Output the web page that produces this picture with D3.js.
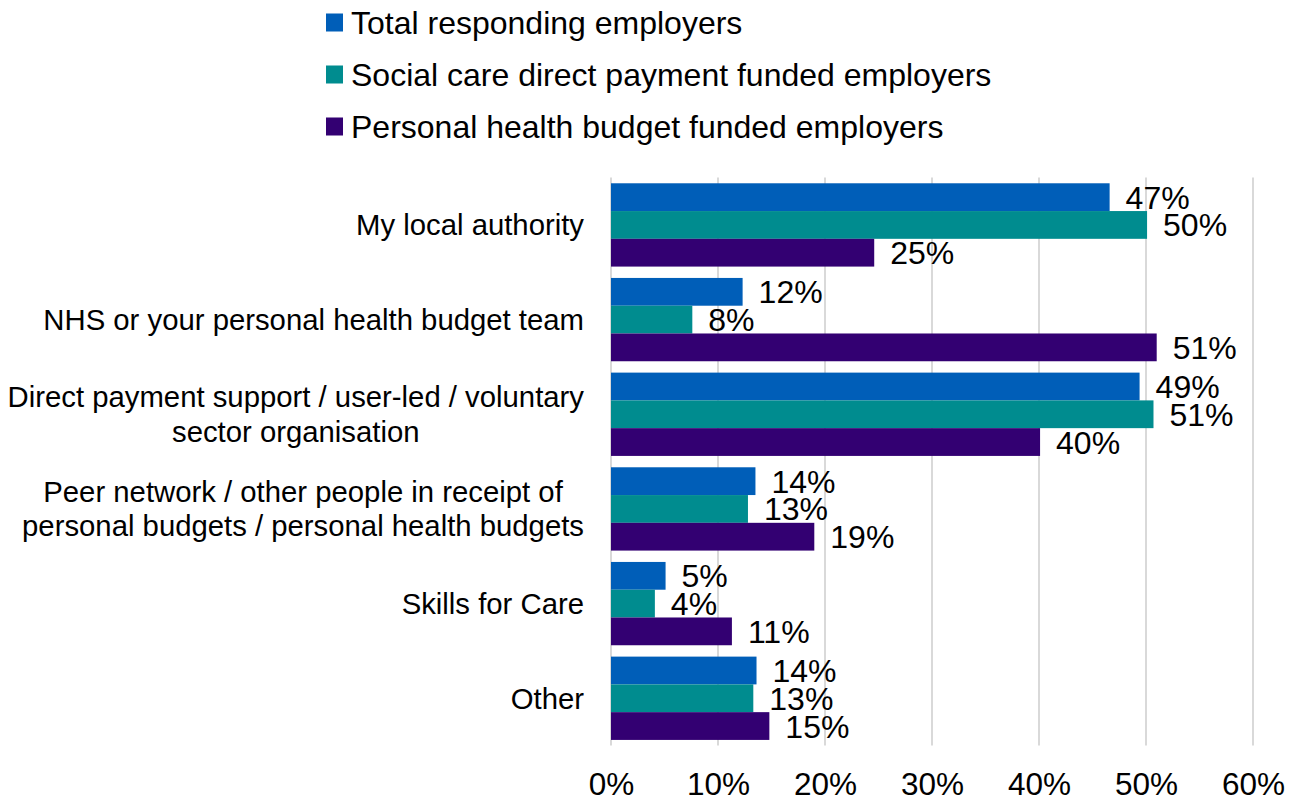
<!DOCTYPE html>
<html>
<head>
<meta charset="utf-8">
<script src="https://cdn.jsdelivr.net/npm/d3@7"></script>
<style>
  html, body { margin: 0; padding: 0; background: #ffffff; }
  svg { display: block; }
  text { font-family: "Liberation Sans", Arial, sans-serif; fill: #000; }
</style>
</head>
<body>
<svg id="chart" width="1299" height="798"></svg>
<script>
// Sources of support used by employers (share of respondents, %)
const categories = [
  ["My local authority"],
  ["NHS or your personal health budget team"],
  ["Direct payment support / user-led / voluntary", "sector organisation"],
  ["Peer network / other people in receipt of", "personal budgets / personal health budgets"],
  ["Skills for Care"],
  ["Other"]
];
const seriesNames = [
  "Total responding employers",
  "Social care direct payment funded employers",
  "Personal health budget funded employers"
];
const seriesColors = ["#005EB8", "#008C8F", "#330072"];
const totalResponding = [46.6, 12.3, 49.4, 13.5, 5.1, 13.6];
const directPayment   = [50.1, 7.6, 50.7, 12.8, 4.1, 13.3];
const healthBudget    = [24.6, 51.0, 40.1, 19.0, 11.3, 14.8];
const xTicks = [0, 10, 20, 30, 40, 50, 60];

const series = [totalResponding, directPayment, healthBudget];

const svg = d3.select("#chart");
const margin = { left: 611, right: 46, top: 177.6, bottom: 52.4 };
const W = 1299, H = 798;
const catFont = 29.3, valueFont = 32, tickFont = 31.5, legendFont = 32;

const x = d3.scaleLinear().domain([0, 60]).range([margin.left, W - margin.right]);
const y = d3.scaleBand()
  .domain(d3.range(categories.length))
  .range([margin.top, H - margin.bottom])
  .paddingInner(0.12)
  .paddingOuter(0.06);
const ySub = d3.scaleBand()
  .domain(d3.range(series.length))
  .range([0, y.bandwidth()]);

// Vertical gridlines
svg.append("g")
  .selectAll("line")
  .data(xTicks)
  .join("line")
  .attr("x1", d => x(d)).attr("x2", d => x(d))
  .attr("y1", margin.top).attr("y2", H - margin.bottom)
  .attr("stroke", "#d9d9d9")
  .attr("stroke-width", 2);

// Bars
const groups = svg.append("g")
  .selectAll("g")
  .data(categories)
  .join("g")
  .attr("transform", (d, i) => `translate(0,${y(i)})`);

groups.selectAll("rect")
  .data((d, i) => series.map((s, k) => ({ k, v: s[i] })))
  .join("rect")
  .attr("x", x(0))
  .attr("y", d => ySub(d.k))
  .attr("width", d => x(d.v) - x(0))
  .attr("height", ySub.bandwidth())
  .attr("fill", d => seriesColors[d.k]);

// Value labels
groups.selectAll("text.val")
  .data((d, i) => series.map((s, k) => ({ k, v: s[i] })))
  .join("text")
  .attr("class", "val")
  .attr("x", d => x(d.v) + 16)
  .attr("y", d => ySub(d.k) + ySub.bandwidth() / 2)
  .attr("dy", "0.36em")
  .attr("font-size", valueFont)
  .text(d => Math.round(d.v) + "%");

// X axis tick labels
const xAxis = d3.axisBottom(x)
  .tickValues(xTicks)
  .tickFormat(d => d + "%")
  .tickSize(0)
  .tickPadding(0);
const xg = svg.append("g")
  .attr("transform", `translate(0,${H - margin.bottom})`)
  .call(xAxis);
xg.select(".domain").remove();
xg.selectAll("text")
  .attr("font-size", tickFont)
  .attr("font-family", "Liberation Sans, Arial, sans-serif")
  .attr("fill", "#000")
  .attr("y", 49)
  .attr("dy", 0);

// Category labels (multi-line labels are centred within a right-aligned block)
const labelRight = 584;
const lineH = 34.5;
const catG = svg.append("g");
categories.forEach((lines, i) => {
  const cy = y(i) + y.bandwidth() / 2;
  const t = catG.append("text")
    .attr("font-size", catFont)
    .attr("text-anchor", "end");
  const startY = cy - (lines.length - 1) * lineH / 2;
  lines.forEach((ln, j) => {
    t.append("tspan")
      .attr("x", labelRight)
      .attr("y", startY + j * lineH)
      .attr("dy", "0.35em")
      .text(ln);
  });
  if (lines.length > 1) {
    const spans = t.selectAll("tspan").nodes();
    const widths = spans.map(s => s.getComputedTextLength());
    const maxW = d3.max(widths);
    const cx = labelRight - maxW / 2;
    t.attr("text-anchor", "middle");
    t.selectAll("tspan").attr("x", cx);
  }
});

// Legend
const legend = svg.append("g");
seriesNames.forEach((name, k) => {
  const cy = 22.5 + k * 52;
  legend.append("rect")
    .attr("x", 326).attr("y", cy - 9)
    .attr("width", 17).attr("height", 18)
    .attr("fill", seriesColors[k]);
  legend.append("text")
    .attr("x", 351).attr("y", cy)
    .attr("dy", "0.35em")
    .attr("font-size", legendFont)
    .text(name);
});
</script>
</body>
</html>
